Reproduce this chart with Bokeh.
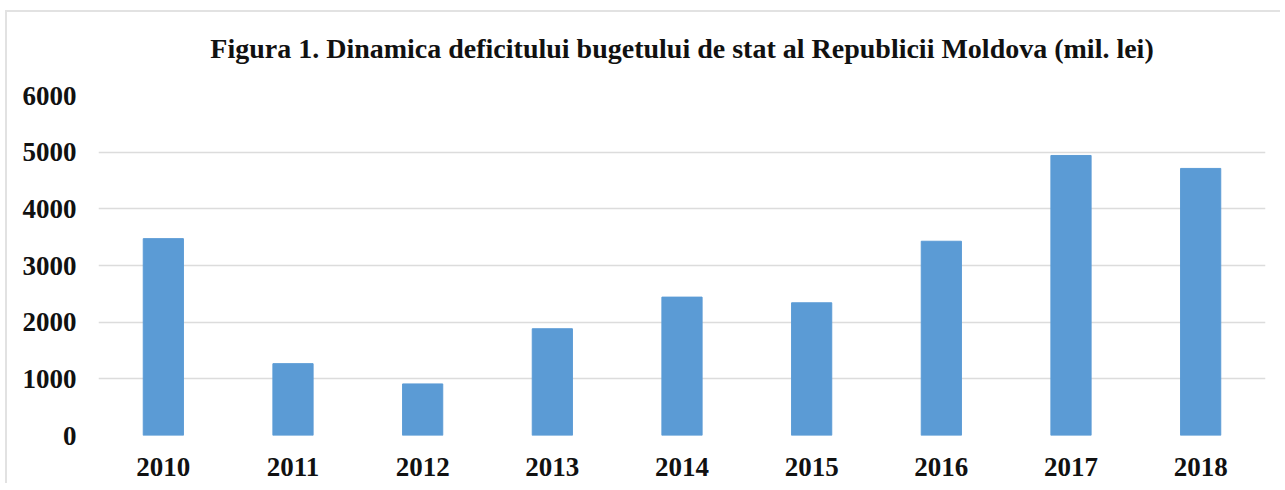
from bokeh.plotting import figure
from bokeh.models import FixedTicker, Title
from bokeh.embed import file_html
from bokeh.resources import INLINE

years = ["2010", "2011", "2012", "2013", "2014", "2015", "2016", "2017", "2018"]
deficit = [3474, 1268, 910, 1884, 2442, 2342, 3428, 4942, 4713]
y_ticks = [0, 1000, 2000, 3000, 4000, 5000, 6000]
title_text = "Figura 1. Dinamica deficitului bugetului de stat al Republicii Moldova (mil. lei)"

FONT = "Liberation Serif"

p = figure(x_range=years, y_range=(0, 6000), width=1275, height=473,
           output_backend="svg", toolbar_location=None,
           min_border_left=91, min_border_right=17, min_border_top=83, min_border_bottom=50,
           styles={"border-left": "2px solid #e2e2e2", "border-top": "2px solid #e2e2e2",
                   "margin-left": "5px", "margin-top": "10px"})

p.vbar(x=years, top=deficit, width=0.31, color="#5b9bd5")

# spacer between the title and the plot area
spacer = Title(text=" ", text_font_size="10px", standoff=1)
p.add_layout(spacer, "above")

t = Title(text=title_text, align="center", text_font=FONT, text_font_size="28px",
          text_font_style="bold", text_color="#111111", standoff=36)
p.add_layout(t, "above")

p.outline_line_color = None
p.xgrid.grid_line_color = None
p.ygrid.grid_line_color = "#dcdcdc"
p.ygrid.grid_line_width = 1.5
p.yaxis.ticker = FixedTicker(ticks=y_ticks)

for ax in (p.xaxis[0], p.yaxis[0]):
    ax.axis_line_color = None
    ax.major_tick_line_color = None
    ax.minor_tick_line_color = None
    ax.major_label_text_font = FONT
    ax.major_label_text_font_size = "27px"
    ax.major_label_text_font_style = "bold"
    ax.major_label_text_color = "#111111"

p.yaxis.major_label_standoff = 16
p.xaxis.major_label_standoff = 16

open("out.html", "w").write(file_html(p, INLINE))
